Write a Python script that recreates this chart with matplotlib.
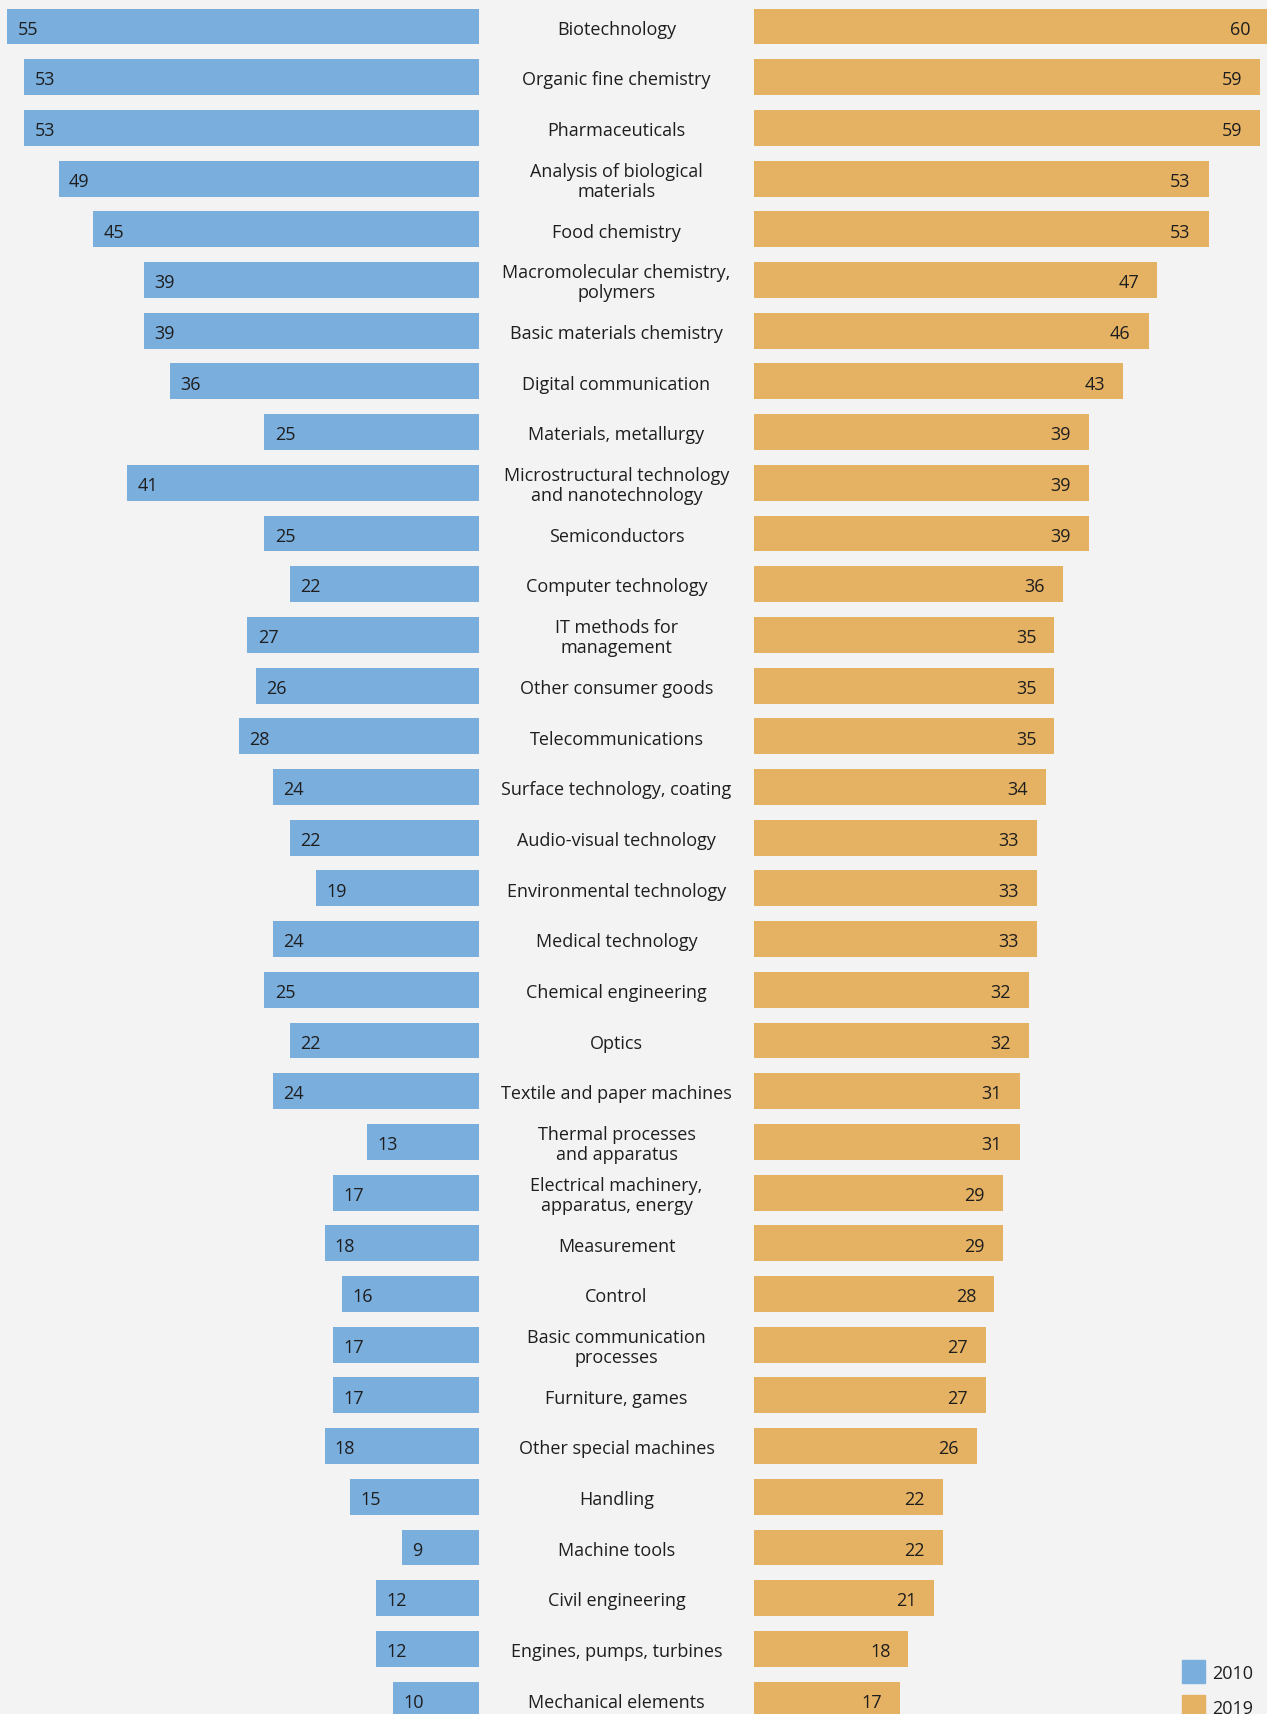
import matplotlib
matplotlib.use("Agg")
import matplotlib.pyplot as plt

categories = [
    "Biotechnology", "Organic fine chemistry", "Pharmaceuticals",
    "Analysis of biological\nmaterials", "Food chemistry",
    "Macromolecular chemistry,\npolymers", "Basic materials chemistry",
    "Digital communication", "Materials, metallurgy",
    "Microstructural technology\nand nanotechnology", "Semiconductors",
    "Computer technology", "IT methods for\nmanagement",
    "Other consumer goods", "Telecommunications",
    "Surface technology, coating", "Audio-visual technology",
    "Environmental technology", "Medical technology",
    "Chemical engineering", "Optics", "Textile and paper machines",
    "Thermal processes\nand apparatus", "Electrical machinery,\napparatus, energy",
    "Measurement", "Control", "Basic communication\nprocesses",
    "Furniture, games", "Other special machines", "Handling",
    "Machine tools", "Civil engineering", "Engines, pumps, turbines",
    "Mechanical elements",
]
values_2010 = [55, 53, 53, 49, 45, 39, 39, 36, 25, 41, 25, 22, 27, 26, 28, 24, 22,
               19, 24, 25, 22, 24, 13, 17, 18, 16, 17, 17, 18, 15, 9, 12, 12, 10]
values_2019 = [60, 59, 59, 53, 53, 47, 46, 43, 39, 39, 39, 36, 35, 35, 35, 34, 33,
               33, 33, 32, 32, 31, 31, 29, 29, 28, 27, 27, 26, 22, 22, 21, 18, 17]
years = ["2010", "2019"]

BLUE = "#7aaedd"
ORANGE = "#e5b264"
BG = "#f2f3f2"
TXT = "#1e1e1e"
FONT = ["Open Sans", "DejaVu Sans"]
FS = 13

W, H = 1267, 1715
fig = plt.figure(figsize=(W / 100, H / 100), dpi=100, facecolor=BG)

px = 8.58          # pixels per unit
row = 50.7         # pixels per row
y0 = 27.5          # centre of first row in pixels
ylim = ((H - y0) / row, -y0 / row)
dy = 0.045         # text sits a touch below bar centre

left_edge, right_start = 479, 754
axL = fig.add_axes([0, 0, left_edge / W, 1])
axM = fig.add_axes([left_edge / W, 0, (right_start - left_edge) / W, 1])
axR = fig.add_axes([right_start / W, 0, (W - right_start) / W, 1])
for ax in (axL, axM, axR):
    ax.set_facecolor("none")
    ax.set_ylim(*ylim)
    ax.axis("off")

axL.set_xlim(left_edge / px, 0)
axR.set_xlim(0, (W - right_start) / px)
axM.set_xlim(0, 1)

ypos = list(range(len(categories)))
axL.barh(ypos, values_2010, height=0.71, color=BLUE)
axR.barh(ypos, values_2019, height=0.71, color=ORANGE)

for i, (a, b, name) in enumerate(zip(values_2010, values_2019, categories)):
    axL.text(a - 1.2, i + dy, str(a), ha="left", va="center", fontsize=FS,
             color=TXT, family=FONT)
    axR.text(b - 2.1, i + dy, str(b), ha="right", va="center", fontsize=FS,
             color=TXT, family=FONT)
    axM.text(0.5, i + dy, name, ha="center", va="center", fontsize=FS,
             color=TXT, family=FONT, linespacing=1.15)

# legend
for k, (yr, col) in enumerate(zip(years, [BLUE, ORANGE])):
    top = 1661 + k * 35
    fig.patches.append(plt.Rectangle((1182 / W, 1 - (top + 23) / H), 23 / W, 23 / H,
                                     transform=fig.transFigure, color=col))
    fig.text(1212 / W, 1 - (top + 13) / H, yr, ha="left", va="center",
             fontsize=FS, color=TXT, family=FONT)

fig.savefig("out.png", dpi=100, facecolor=BG)
